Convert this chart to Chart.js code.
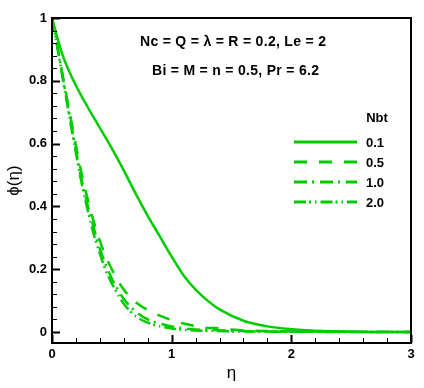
<!DOCTYPE html>
<html>
<head>
<meta charset="utf-8">
<script src="https://cdn.jsdelivr.net/npm/chart.js@4"></script>
<style>
  html, body { margin: 0; padding: 0; background: #fff; }
  #wrap { width: 424px; height: 388px; }
</style>
</head>
<body>
<div id="wrap"><canvas id="chart" width="424" height="388"></canvas></div>
<script>
// ========== DATA ==========
const etaSolid = [0, 0.05, 0.1, 0.2, 0.3, 0.4, 0.5, 0.6, 0.7, 0.8, 0.9, 1.0, 1.1, 1.2, 1.3, 1.4, 1.6, 1.8, 2.0, 2.2, 2.5, 3.0];
const phiNbt01 = [1, 0.93, 0.87, 0.785, 0.715, 0.65, 0.585, 0.515, 0.44, 0.37, 0.305, 0.24, 0.18, 0.135, 0.1, 0.072, 0.036, 0.018, 0.009, 0.004, 0.001, 0];

const etaDash = [0, 0.05, 0.1, 0.15, 0.2, 0.25, 0.3, 0.35, 0.4, 0.45, 0.5, 0.55, 0.6, 0.7, 0.8, 0.9, 1.0, 1.1, 1.2, 1.3, 1.4, 1.5, 1.6, 1.8, 2.0, 2.5, 3.0];
const phiNbt05 = [1, 0.9, 0.795, 0.695, 0.595, 0.5, 0.42, 0.35, 0.29, 0.24, 0.2, 0.165, 0.135, 0.095, 0.07, 0.052, 0.038, 0.027, 0.019, 0.013, 0.012, 0.008, 0.005, 0.003, 0.002, 0.001, 0];
const phiNbt10 = [1, 0.9, 0.79, 0.685, 0.58, 0.48, 0.4, 0.33, 0.265, 0.215, 0.17, 0.135, 0.105, 0.065, 0.04, 0.027, 0.018, 0.012, 0.008, 0.007, 0.006, 0.004, 0.003, 0.002, 0.001, 0.0005, 0];
const phiNbt20 = [1, 0.895, 0.785, 0.675, 0.57, 0.47, 0.385, 0.31, 0.25, 0.195, 0.155, 0.12, 0.09, 0.05, 0.03, 0.018, 0.011, 0.007, 0.005, 0.004, 0.003, 0.002, 0.002, 0.001, 0.001, 0, 0];

const nbtLabels = ['0.1', '0.5', '1.0', '2.0'];
const xTicks = [0, 1, 2, 3];
const yTicks = [0, 0.2, 0.4, 0.6, 0.8, 1];
const annotations = ['Nc = Q = \u03bb = R = 0.2, Le = 2', 'Bi = M = n = 0.5, Pr = 6.2'];

const GREEN = '#00cc00';
const FONT = '"Liberation Sans", Arial, "DejaVu Sans", sans-serif';
const dashes = [[], [13, 12], [13, 5, 2, 6], [12, 3, 2, 4, 1.5, 4]];

function toPoints(xs, ys) {
  return xs.map((x, i) => ({ x, y: ys[i] }));
}

const series = [
  toPoints(etaSolid, phiNbt01),
  toPoints(etaDash, phiNbt05),
  toPoints(etaDash, phiNbt10),
  toPoints(etaDash, phiNbt20)
];

// ========== PLUGIN: frame, inward ticks, texts, legend ==========
const decorPlugin = {
  id: 'decor',
  afterDraw(chart) {
    const ctx = chart.ctx;
    const area = chart.chartArea;
    const xs = chart.scales.x;
    const ys = chart.scales.y;
    ctx.save();

    // inward ticks
    ctx.strokeStyle = '#000';
    for (let i = 0; i <= 15; i++) {
      const v = i * 0.2;
      const major = i % 5 === 0;
      const px = Math.round(xs.getPixelForValue(v)) + 0.5;
      ctx.lineWidth = major ? 2 : 1;
      ctx.beginPath();
      ctx.moveTo(px, area.bottom);
      ctx.lineTo(px, area.bottom - (major ? 8 : 5));
      ctx.stroke();
    }
    for (let i = 0; i <= 25; i++) {
      const v = i * 0.04;
      const major = i % 5 === 0;
      const py = Math.round(ys.getPixelForValue(v)) + 0.5;
      ctx.lineWidth = major ? 2 : 1;
      ctx.beginPath();
      ctx.moveTo(area.left, py);
      ctx.lineTo(area.left + (major ? 8 : 5), py);
      ctx.stroke();
    }

    // frame
    ctx.lineWidth = 2;
    ctx.strokeRect(area.left, area.top, area.right - area.left, area.bottom - area.top);

    // annotation texts
    ctx.fillStyle = '#000';
    ctx.font = 'bold 14px ' + FONT;
    ctx.letterSpacing = '0.3px';
    ctx.textBaseline = 'middle';
    ctx.textAlign = 'left';
    ctx.fillText(annotations[0], 140, 42);
    ctx.fillText(annotations[1], 152, 71);

    // legend
    ctx.font = 'bold 13px ' + FONT;
    ctx.letterSpacing = '0px';
    ctx.textAlign = 'center';
    ctx.fillText('Nbt', 377, 118);
    ctx.textAlign = 'left';
    nbtLabels.forEach((lab, i) => {
      const y = 142 + i * 20;
      ctx.strokeStyle = GREEN;
      ctx.lineWidth = 3;
      ctx.setLineDash(dashes[i]);
      ctx.beginPath();
      ctx.moveTo(294, y);
      ctx.lineTo(357, y);
      ctx.stroke();
      ctx.setLineDash([]);
      ctx.fillStyle = '#000';
      ctx.fillText(lab, 366, y + 1);
    });

    ctx.restore();
  }
};

// ========== CHART ==========
new Chart(document.getElementById('chart'), {
  type: 'line',
  data: {
    datasets: series.map((pts, i) => ({
      label: 'Nbt = ' + nbtLabels[i],
      data: pts,
      borderColor: GREEN,
      borderWidth: 2.5,
      borderDash: dashes[i],
      pointRadius: 0,
      fill: false,
      cubicInterpolationMode: 'monotone'
    }))
  },
  options: {
    responsive: false,
    animation: false,
    layout: { padding: { left: 0, right: 13, top: 18, bottom: 0 } },
    plugins: {
      legend: { display: false },
      tooltip: { enabled: false }
    },
    scales: {
      x: {
        type: 'linear',
        min: 0,
        max: 3,
        afterFit: s => { s.height = 45; },
        afterBuildTicks: s => { s.ticks = xTicks.map(v => ({ value: v })); },
        grid: { display: false, drawTicks: false },
        border: { display: false },
        ticks: {
          padding: 4,
          color: '#000',
          font: { family: FONT, size: 13, weight: 'bold' },
          callback: v => String(v)
        },
        title: {
          display: true,
          text: '\u03b7',
          color: '#000',
          font: { family: FONT, size: 17 },
          padding: { top: 4, bottom: 4 }
        }
      },
      y: {
        type: 'linear',
        min: -0.035,
        max: 1,
        afterFit: s => { s.width = 52; },
        afterBuildTicks: s => { s.ticks = yTicks.map(v => ({ value: v })); },
        grid: { display: false, drawTicks: false },
        border: { display: false },
        ticks: {
          padding: 5,
          color: '#000',
          font: { family: FONT, size: 13, weight: 'bold' },
          callback: v => String(v)
        },
        title: {
          display: true,
          text: '\u03d5(\u03b7)',
          color: '#000',
          font: { family: FONT, size: 17 },
          padding: { top: 4, bottom: 4 }
        }
      }
    }
  },
  plugins: [decorPlugin]
});
</script>
</body>
</html>
